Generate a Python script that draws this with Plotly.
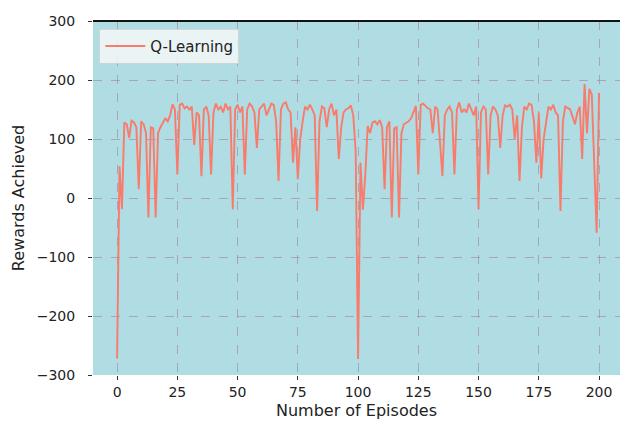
import plotly.graph_objects as go

episodes = list(range(201))
rewards = [
    -272, 54, -19, 128, 125, 102, 131, 128, 120, 15,
    130, 125, 110, -33, 120, 118, -33, 110, 120, 128,
    135, 130, 140, 159, 150, 40, 158, 160, 152, 155,
    150, 155, 90, 145, 140, 37, 150, 155, 140, 40,
    145, 160, 150, 155, 145, 160, 150, 155, -19, 150,
    158, 145, 155, 40, 150, 160, 155, 145, 85, 150,
    155, 160, 140, 150, 160, 158, 130, 29, 150, 160,
    162, 150, 145, 60, 120, 32, 100, 130, 155, 150,
    158, 150, 140, -22, 130, 155, 152, 120, 150, 160,
    140, 150, 66, 120, 145, 150, 152, 157, 140, 80,
    -273, 60, -20, 40, 122, 110, 128, 130, 125, 132,
    120, 15, 120, 130, -33, 118, 120, -33, 110, 125,
    128, 130, 135, 145, 156, 40, 158, 160, 155, 152,
    150, 110, 155, 150, 95, 37, 140, 150, 155, 145,
    40, 150, 162, 145, 150, 145, 160, 150, 140, 155,
    -19, 145, 155, 150, 40, 140, 155, 150, 140, 85,
    140, 157, 155, 158, 150, 100, 140, 29, 120, 155,
    150, 160, 158, 130, 60, 145, 33, 100, 130, 155,
    150, 158, 145, 140, -22, 130, 155, 152, 150, 138,
    125, 145, 155, 66, 193, 110, 185, 175, 50, -59,
    178,
]
x_ticks = [0, 25, 50, 75, 100, 125, 150, 175, 200]
x_tick_labels = ["0", "25", "50", "75", "100", "125", "150", "175", "200"]
y_ticks = [-300, -200, -100, 0, 100, 200, 300]
y_tick_labels = ["\u2212300", "\u2212200", "\u2212100", "0", "100", "200", "300"]

FONT = "DejaVu Sans"
grid_color = "rgba(160,120,150,0.55)"

fig = go.Figure()
fig.add_trace(go.Scatter(
    x=episodes, y=rewards, mode="lines", name="Q-Learning",
    line=dict(color="#f87b6b", width=1.9),
))

fig.update_layout(
    width=620, height=423,
    margin=dict(l=93, r=0, t=21, b=48),
    paper_bgcolor="white",
    plot_bgcolor="#b0dde3",
    font=dict(family=FONT, size=14, color="#222222"),
    showlegend=True,
    legend=dict(
        x=0.012, y=0.978, xanchor="left", yanchor="top",
        bgcolor="rgba(245,248,248,0.85)",
        bordercolor="rgba(210,210,210,0.9)", borderwidth=1,
        font=dict(family=FONT, size=15, color="#222222"),
        itemwidth=40,
    ),
    xaxis=dict(
        range=[-10, 208.7],
        automargin=False,
        tickmode="array", tickvals=x_ticks, ticktext=x_tick_labels,
        showgrid=True, gridcolor=grid_color, griddash="dash", gridwidth=1,
        zeroline=False, showline=False,
        ticks="outside", ticklen=4, tickcolor="#333333",
        tickfont=dict(family=FONT, size=14, color="#222222"),
        title=dict(text="Number of Episodes", font=dict(family=FONT, size=16, color="#222222"), standoff=6),
    ),
    yaxis=dict(
        range=[-300, 300],
        automargin=False,
        tickmode="array", tickvals=y_ticks, ticktext=y_tick_labels,
        showgrid=True, gridcolor=grid_color, griddash="dash", gridwidth=1,
        zeroline=False, showline=False,
        ticks="outside", ticklen=4, tickcolor="#333333",
        ticklabelstandoff=10,
        tickfont=dict(family=FONT, size=14, color="#222222"),
        title=dict(text="Rewards Achieved", font=dict(family=FONT, size=16, color="#222222"), standoff=8),
    ),
    shapes=[dict(type="line", xref="paper", yref="paper", x0=0, x1=1, y0=1, y1=1,
                 line=dict(color="#111111", width=2))],
)

fig.write_html(
    "out.html",
    config={"displayModeBar": False},
    post_script="document.body.style.margin='0';document.body.style.overflow='hidden';",
)
